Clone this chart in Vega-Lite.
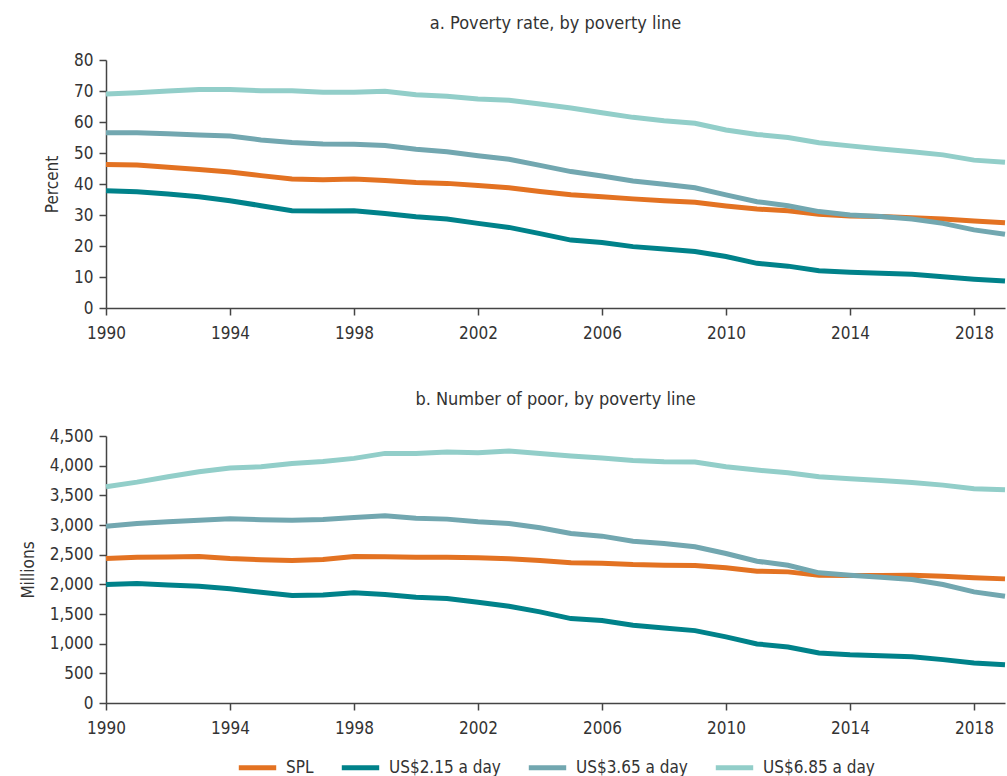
{
  "$schema": "https://vega.github.io/schema/vega-lite/v6.json",
  "padding": {"left": 19, "top": 15, "right": 0, "bottom": 0},
  "background": "white",
  "config": {
    "font": "DejaVu Sans Condensed, DejaVu Sans, sans-serif",
    "view": {"stroke": null},
    "axis": {"grid": false, "domainColor": "#444", "tickColor": "#444", "labelColor": "#333", "titleColor": "#333", "labelFontSize": 17, "titleFontSize": 17, "titleFontWeight": "normal", "tickSize": 7, "domainWidth": 1.5, "tickWidth": 1.5},
    "title": {"fontSize": 18, "fontWeight": "normal", "color": "#333", "anchor": "middle"},
    "legend": {"labelFontSize": 17, "labelColor": "#333", "layout": {"bottom": {"anchor": "middle"}}}
  },
  "data": {"values": [
    {"year":1990,"line":"SPL","rate":46.3,"millions":2435},{"year":1991,"line":"SPL","rate":46.1,"millions":2457},{"year":1992,"line":"SPL","rate":45.4,"millions":2460},{"year":1993,"line":"SPL","rate":44.7,"millions":2469},{"year":1994,"line":"SPL","rate":43.9,"millions":2435},{"year":1995,"line":"SPL","rate":42.7,"millions":2413},{"year":1996,"line":"SPL","rate":41.6,"millions":2401},{"year":1997,"line":"SPL","rate":41.4,"millions":2418},{"year":1998,"line":"SPL","rate":41.6,"millions":2469},{"year":1999,"line":"SPL","rate":41.1,"millions":2463},{"year":2000,"line":"SPL","rate":40.5,"millions":2457},{"year":2001,"line":"SPL","rate":40.2,"millions":2457},{"year":2002,"line":"SPL","rate":39.5,"millions":2446},{"year":2003,"line":"SPL","rate":38.8,"millions":2430},{"year":2004,"line":"SPL","rate":37.6,"millions":2401},{"year":2005,"line":"SPL","rate":36.5,"millions":2362},{"year":2006,"line":"SPL","rate":35.9,"millions":2357},{"year":2007,"line":"SPL","rate":35.2,"millions":2334},{"year":2008,"line":"SPL","rate":34.6,"millions":2323},{"year":2009,"line":"SPL","rate":34.1,"millions":2317},{"year":2010,"line":"SPL","rate":32.9,"millions":2278},{"year":2011,"line":"SPL","rate":31.9,"millions":2221},{"year":2012,"line":"SPL","rate":31.4,"millions":2210},{"year":2013,"line":"SPL","rate":30.2,"millions":2153},{"year":2014,"line":"SPL","rate":29.7,"millions":2148},{"year":2015,"line":"SPL","rate":29.5,"millions":2148},{"year":2016,"line":"SPL","rate":29.1,"millions":2153},{"year":2017,"line":"SPL","rate":28.7,"millions":2137},{"year":2018,"line":"SPL","rate":28.1,"millions":2109},{"year":2019,"line":"SPL","rate":27.5,"millions":2092},
    {"year":1990,"line":"US$2.15 a day","rate":37.8,"millions":1996},{"year":1991,"line":"US$2.15 a day","rate":37.5,"millions":2013},{"year":1992,"line":"US$2.15 a day","rate":36.8,"millions":1990},{"year":1993,"line":"US$2.15 a day","rate":35.9,"millions":1968},{"year":1994,"line":"US$2.15 a day","rate":34.6,"millions":1924},{"year":1995,"line":"US$2.15 a day","rate":33.0,"millions":1866},{"year":1996,"line":"US$2.15 a day","rate":31.4,"millions":1811},{"year":1997,"line":"US$2.15 a day","rate":31.3,"millions":1822},{"year":1998,"line":"US$2.15 a day","rate":31.4,"millions":1856},{"year":1999,"line":"US$2.15 a day","rate":30.5,"millions":1828},{"year":2000,"line":"US$2.15 a day","rate":29.4,"millions":1782},{"year":2001,"line":"US$2.15 a day","rate":28.7,"millions":1760},{"year":2002,"line":"US$2.15 a day","rate":27.3,"millions":1698},{"year":2003,"line":"US$2.15 a day","rate":26.0,"millions":1630},{"year":2004,"line":"US$2.15 a day","rate":24.0,"millions":1536},{"year":2005,"line":"US$2.15 a day","rate":21.9,"millions":1423},{"year":2006,"line":"US$2.15 a day","rate":21.1,"millions":1389},{"year":2007,"line":"US$2.15 a day","rate":19.8,"millions":1310},{"year":2008,"line":"US$2.15 a day","rate":19.0,"millions":1266},{"year":2009,"line":"US$2.15 a day","rate":18.2,"millions":1220},{"year":2010,"line":"US$2.15 a day","rate":16.6,"millions":1114},{"year":2011,"line":"US$2.15 a day","rate":14.4,"millions":996},{"year":2012,"line":"US$2.15 a day","rate":13.5,"millions":945},{"year":2013,"line":"US$2.15 a day","rate":12.0,"millions":844},{"year":2014,"line":"US$2.15 a day","rate":11.5,"millions":815},{"year":2015,"line":"US$2.15 a day","rate":11.2,"millions":798},{"year":2016,"line":"US$2.15 a day","rate":10.9,"millions":781},{"year":2017,"line":"US$2.15 a day","rate":10.1,"millions":731},{"year":2018,"line":"US$2.15 a day","rate":9.3,"millions":675},{"year":2019,"line":"US$2.15 a day","rate":8.7,"millions":646},
    {"year":1990,"line":"US$3.65 a day","rate":56.5,"millions":2980},{"year":1991,"line":"US$3.65 a day","rate":56.5,"millions":3026},{"year":1992,"line":"US$3.65 a day","rate":56.2,"millions":3054},{"year":1993,"line":"US$3.65 a day","rate":55.8,"millions":3081},{"year":1994,"line":"US$3.65 a day","rate":55.5,"millions":3105},{"year":1995,"line":"US$3.65 a day","rate":54.2,"millions":3088},{"year":1996,"line":"US$3.65 a day","rate":53.4,"millions":3081},{"year":1997,"line":"US$3.65 a day","rate":52.9,"millions":3093},{"year":1998,"line":"US$3.65 a day","rate":52.8,"millions":3127},{"year":1999,"line":"US$3.65 a day","rate":52.4,"millions":3156},{"year":2000,"line":"US$3.65 a day","rate":51.2,"millions":3115},{"year":2001,"line":"US$3.65 a day","rate":50.4,"millions":3099},{"year":2002,"line":"US$3.65 a day","rate":49.1,"millions":3054},{"year":2003,"line":"US$3.65 a day","rate":48.0,"millions":3026},{"year":2004,"line":"US$3.65 a day","rate":46.0,"millions":2953},{"year":2005,"line":"US$3.65 a day","rate":44.0,"millions":2857},{"year":2006,"line":"US$3.65 a day","rate":42.6,"millions":2812},{"year":2007,"line":"US$3.65 a day","rate":41.0,"millions":2727},{"year":2008,"line":"US$3.65 a day","rate":39.9,"millions":2688},{"year":2009,"line":"US$3.65 a day","rate":38.8,"millions":2632},{"year":2010,"line":"US$3.65 a day","rate":36.5,"millions":2519},{"year":2011,"line":"US$3.65 a day","rate":34.3,"millions":2390},{"year":2012,"line":"US$3.65 a day","rate":33.0,"millions":2322},{"year":2013,"line":"US$3.65 a day","rate":31.1,"millions":2194},{"year":2014,"line":"US$3.65 a day","rate":30.0,"millions":2153},{"year":2015,"line":"US$3.65 a day","rate":29.5,"millions":2120},{"year":2016,"line":"US$3.65 a day","rate":28.7,"millions":2081},{"year":2017,"line":"US$3.65 a day","rate":27.3,"millions":1996},{"year":2018,"line":"US$3.65 a day","rate":25.2,"millions":1873},{"year":2019,"line":"US$3.65 a day","rate":23.8,"millions":1799},
    {"year":1990,"line":"US$6.85 a day","rate":69.0,"millions":3645},{"year":1991,"line":"US$6.85 a day","rate":69.4,"millions":3723},{"year":1992,"line":"US$6.85 a day","rate":70.0,"millions":3814},{"year":1993,"line":"US$6.85 a day","rate":70.5,"millions":3898},{"year":1994,"line":"US$6.85 a day","rate":70.5,"millions":3959},{"year":1995,"line":"US$6.85 a day","rate":70.1,"millions":3982},{"year":1996,"line":"US$6.85 a day","rate":70.1,"millions":4038},{"year":1997,"line":"US$6.85 a day","rate":69.6,"millions":4072},{"year":1998,"line":"US$6.85 a day","rate":69.6,"millions":4123},{"year":1999,"line":"US$6.85 a day","rate":69.9,"millions":4207},{"year":2000,"line":"US$6.85 a day","rate":68.8,"millions":4207},{"year":2001,"line":"US$6.85 a day","rate":68.3,"millions":4229},{"year":2002,"line":"US$6.85 a day","rate":67.4,"millions":4218},{"year":2003,"line":"US$6.85 a day","rate":67.0,"millions":4246},{"year":2004,"line":"US$6.85 a day","rate":65.8,"millions":4207},{"year":2005,"line":"US$6.85 a day","rate":64.5,"millions":4162},{"year":2006,"line":"US$6.85 a day","rate":63.0,"millions":4128},{"year":2007,"line":"US$6.85 a day","rate":61.5,"millions":4089},{"year":2008,"line":"US$6.85 a day","rate":60.4,"millions":4067},{"year":2009,"line":"US$6.85 a day","rate":59.6,"millions":4061},{"year":2010,"line":"US$6.85 a day","rate":57.4,"millions":3982},{"year":2011,"line":"US$6.85 a day","rate":56.0,"millions":3926},{"year":2012,"line":"US$6.85 a day","rate":55.0,"millions":3881},{"year":2013,"line":"US$6.85 a day","rate":53.3,"millions":3814},{"year":2014,"line":"US$6.85 a day","rate":52.3,"millions":3780},{"year":2015,"line":"US$6.85 a day","rate":51.3,"millions":3751},{"year":2016,"line":"US$6.85 a day","rate":50.4,"millions":3718},{"year":2017,"line":"US$6.85 a day","rate":49.4,"millions":3672},{"year":2018,"line":"US$6.85 a day","rate":47.7,"millions":3611},{"year":2019,"line":"US$6.85 a day","rate":47.0,"millions":3594}
  ]},
  "vconcat": [
    {
      "title": {"text": "a. Poverty rate, by poverty line", "offset": 18},
      "width": 899,
      "height": 248,
      "mark": {"type": "line", "strokeWidth": 5, "strokeCap": "butt"},
      "encoding": {
        "x": {"field": "year", "type": "quantitative", "scale": {"domain": [1990, 2019], "nice": false, "zero": false},
              "axis": {"title": null, "values": [1990,1994,1998,2002,2006,2010,2014,2018], "format": "d", "labelFlush": false, "labelPadding": 10}},
        "y": {"field": "rate", "type": "quantitative", "scale": {"domain": [0, 80], "nice": false},
              "axis": {"title": "Percent", "values": [0,10,20,30,40,50,60,70,80], "labelPadding": 6, "titlePadding": 12}},
        "color": {"field": "line", "type": "nominal",
                  "scale": {"domain": ["SPL", "US$2.15 a day", "US$3.65 a day", "US$6.85 a day"], "range": ["#E37222", "#00828A", "#72A7B0", "#92CEC9"]},
                  "legend": {"title": null, "orient": "bottom", "direction": "horizontal", "symbolType": "stroke", "symbolStrokeWidth": 5, "symbolSize": 1400, "columnPadding": 17, "labelOffset": 7, "offset": 10}}
      }
    },
    {
      "title": {"text": "b. Number of poor, by poverty line", "offset": 18},
      "width": 899,
      "height": 267,
      "mark": {"type": "line", "strokeWidth": 5, "strokeCap": "butt"},
      "encoding": {
        "x": {"field": "year", "type": "quantitative", "scale": {"domain": [1990, 2019], "nice": false, "zero": false},
              "axis": {"title": null, "values": [1990,1994,1998,2002,2006,2010,2014,2018], "format": "d", "labelFlush": false, "labelPadding": 10}},
        "y": {"field": "millions", "type": "quantitative", "scale": {"domain": [0, 4500], "nice": false},
              "axis": {"title": "Millions", "values": [0,500,1000,1500,2000,2500,3000,3500,4000,4500], "format": ",d", "labelPadding": 6, "titlePadding": 12}},
        "color": {"field": "line", "type": "nominal"}
      }
    }
  ],
  "spacing": 50
}
